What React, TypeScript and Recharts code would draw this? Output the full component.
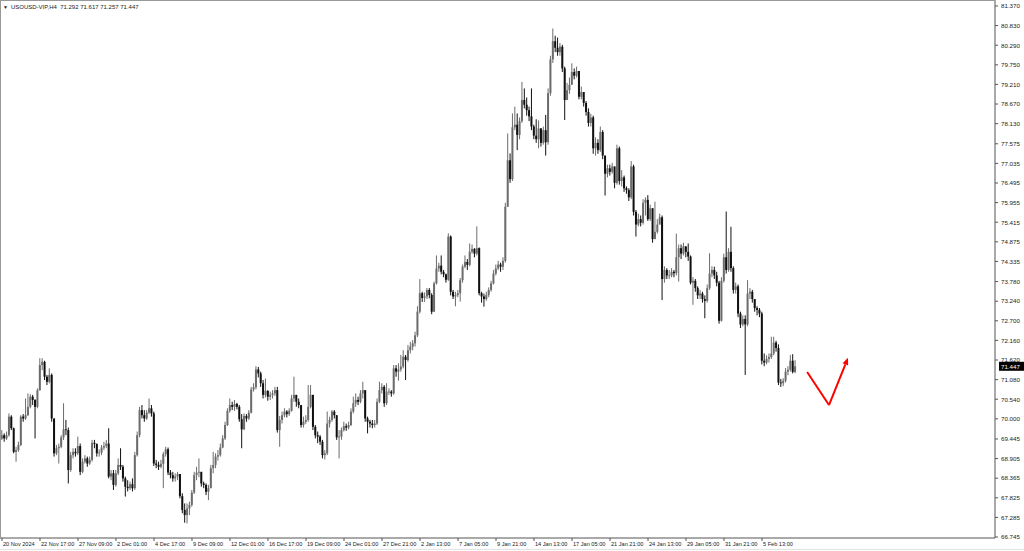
import { ComposedChart, Bar, XAxis, YAxis, ReferenceLine } from 'recharts'

const FONT = '"Liberation Sans", Arial, sans-serif'

// each bar is [high, low, close]; a bar opens at the previous close
const firstOpen = 69.45

const novBars = [
  [69.69, 69.42, 69.55], [69.60, 69.37, 69.46], [69.65, 69.42, 69.55], [70.15, 69.51, 70.06], [70.10, 69.69, 69.74],
  [69.76, 69.05, 69.09], [69.23, 68.82, 69.14], [69.37, 69.09, 69.28], [70.10, 69.25, 70.06], [70.13, 69.92, 70.01],
  [70.56, 69.97, 70.10], [70.70, 70.08, 70.33], [70.68, 70.29, 70.61], [70.66, 70.38, 70.52], [70.54, 69.46, 70.33],
  [70.84, 70.29, 70.79], [71.67, 70.77, 71.48], [71.67, 71.34, 71.57], [71.60, 71.07, 71.16], [71.21, 70.93, 71.02],
  [71.39, 70.98, 71.21], [71.25, 69.92, 70.01], [70.01, 68.96, 69.05], [69.28, 69.00, 69.19], [69.32, 68.77, 69.23],
  [69.55, 69.19, 69.49], [70.43, 69.42, 69.71], [69.97, 69.55, 69.69], [69.76, 68.22, 68.59], [69.09, 68.54, 69.00],
  [69.19, 68.91, 69.09], [69.19, 68.96, 69.05], [69.51, 69.00, 69.25], [69.32, 68.45, 68.54], [68.91, 68.50, 68.82],
  [69.00, 68.77, 68.91], [68.96, 68.68, 68.77], [68.96, 68.73, 68.87], [69.42, 68.82, 69.34], [69.42, 69.19, 69.31],
  [69.32, 68.96, 69.05], [69.16, 68.96, 69.07], [69.28, 69.00, 69.21], [69.37, 69.14, 69.25], [69.42, 69.19, 69.32],
  [69.74, 68.36, 68.41], [68.59, 68.31, 68.50], [68.59, 68.04, 68.18],
]

const decBars = [
  [68.59, 68.13, 68.50], [68.91, 68.45, 68.73], [69.19, 68.59, 68.68], [68.73, 68.27, 68.36], [68.41, 67.86, 68.13],
  [68.31, 68.00, 68.09], [68.27, 68.04, 68.20], [68.36, 68.00, 68.09], [69.09, 68.04, 69.00], [69.65, 68.96, 69.55],
  [70.33, 69.49, 70.24], [70.38, 70.01, 70.10], [70.24, 69.92, 70.01], [70.24, 69.97, 70.17], [70.56, 70.13, 70.29],
  [70.38, 70.06, 70.15], [70.20, 68.70, 68.77], [68.87, 68.64, 68.73], [68.82, 68.59, 68.68], [68.87, 68.64, 68.76],
  [69.09, 68.09, 69.03], [69.23, 68.96, 69.16], [69.21, 68.45, 68.52], [68.59, 68.36, 68.45], [68.54, 68.27, 68.36],
  [68.50, 68.27, 68.41], [68.54, 68.31, 68.48], [68.45, 67.81, 67.87], [67.95, 67.40, 67.49], [67.67, 67.14, 67.35],
  [67.67, 67.12, 67.53], [67.72, 67.35, 67.63], [68.04, 67.58, 67.97], [68.54, 67.93, 68.45], [68.68, 68.31, 68.52],
  [68.91, 68.39, 68.54], [68.50, 68.13, 68.22], [68.27, 68.09, 68.18], [68.22, 67.90, 67.99], [68.18, 67.76, 68.09],
  [68.73, 68.09, 68.64], [69.09, 68.50, 68.73], [69.05, 68.64, 68.96], [69.14, 68.85, 69.00], [69.32, 68.96, 69.21],
  [69.55, 69.19, 69.46], [69.92, 69.42, 69.83], [70.29, 69.80, 70.22], [70.56, 70.17, 70.38], [70.47, 70.24, 70.33],
  [70.52, 70.22, 70.41], [70.44, 70.26, 70.33], [70.38, 69.92, 69.99], [70.13, 69.19, 69.71], [70.15, 69.69, 70.08],
  [70.13, 69.92, 70.01], [70.24, 69.97, 70.17], [70.88, 70.15, 70.81], [70.98, 70.75, 70.87], [71.45, 70.81, 71.36],
  [71.43, 71.14, 71.25], [71.30, 70.88, 70.98], [71.07, 70.56, 70.66], [71.11, 70.59, 70.77], [70.79, 70.50, 70.61],
  [70.75, 70.52, 70.66], [70.79, 70.56, 70.70], [70.88, 70.63, 70.79], [70.88, 69.62, 69.69], [70.08, 69.23, 69.97],
  [70.20, 69.87, 70.10], [70.29, 70.04, 70.20], [70.24, 70.04, 70.13], [70.29, 70.08, 70.22], [70.66, 70.20, 70.56],
  [71.16, 70.47, 70.66], [70.66, 70.33, 70.47], [70.56, 70.29, 70.38], [70.38, 69.76, 69.83], [70.06, 69.76, 69.92],
  [70.10, 69.86, 69.97], [70.93, 69.92, 70.33], [70.93, 70.29, 70.66], [70.66, 69.69, 69.78], [69.83, 69.46, 69.55],
  [69.65, 69.33, 69.51], [69.55, 69.28, 69.37], [69.42, 68.91, 69.00], [69.14, 68.88, 69.05], [70.20, 69.00, 69.87],
  [70.06, 69.76, 69.97], [70.24, 69.92, 70.20], [70.24, 70.01, 70.10], [70.10, 69.42, 69.49], [69.69, 68.91, 69.51],
  [69.76, 69.42, 69.69], [69.92, 69.65, 69.80], [69.87, 69.67, 69.76], [69.92, 69.71, 69.83], [70.29, 69.80, 70.20],
  [70.61, 70.15, 70.43], [70.70, 70.33, 70.52], [70.61, 70.38, 70.47], [70.79, 70.43, 70.70], [71.02, 70.56, 70.79],
  [70.75, 69.92, 70.01], [70.06, 69.60, 69.92], [69.97, 69.76, 69.87], [69.97, 69.74, 69.83], [69.97, 69.76, 69.87],
  [70.56, 69.83, 70.47], [71.02, 70.43, 70.79], [70.98, 70.70, 70.88], [70.93, 70.33, 70.43], [70.98, 70.38, 70.75],
  [70.84, 70.66, 70.75], [70.79, 70.61, 70.70], [71.48, 70.66, 71.39], [71.48, 71.16, 71.30], [71.53, 71.05, 71.36],
  [71.76, 71.30, 71.44], [71.89, 71.39, 71.71],
]

const janBars = [
  [71.76, 71.07, 71.62], [72.03, 71.57, 71.89], [72.12, 71.80, 71.99], [72.17, 71.89, 72.08], [72.40, 71.99, 72.30],
  [73.10, 72.25, 72.95], [73.85, 72.90, 73.46], [73.50, 73.22, 73.33], [73.48, 73.22, 73.37], [73.60, 73.30, 73.55],
  [73.60, 73.32, 73.41], [73.46, 72.88, 72.95], [73.78, 72.95, 73.73], [74.50, 73.70, 74.14], [74.30, 74.05, 74.22],
  [74.50, 73.98, 74.05], [74.10, 73.90, 73.98], [74.00, 73.75, 73.83], [75.11, 73.80, 75.02], [75.05, 73.40, 73.50],
  [73.55, 73.30, 73.37], [73.50, 73.10, 73.41], [73.55, 73.35, 73.46], [73.88, 73.23, 73.82], [74.25, 73.75, 74.19],
  [74.50, 74.15, 74.32], [74.40, 74.10, 74.24], [74.83, 74.20, 74.60], [74.80, 74.55, 74.68], [74.70, 74.45, 74.55],
  [75.30, 74.50, 74.70], [74.72, 73.40, 73.46], [73.50, 73.20, 73.37], [73.45, 73.09, 73.30], [73.50, 73.25, 73.41],
  [73.62, 73.35, 73.55], [73.80, 73.50, 73.73], [74.10, 73.70, 74.00], [74.25, 73.95, 74.14], [74.35, 74.10, 74.25],
  [74.30, 74.05, 74.19], [74.45, 74.10, 74.35], [75.95, 74.30, 75.84], [77.86, 75.85, 77.12], [77.31, 76.50, 76.60],
  [78.41, 76.55, 78.03], [78.60, 77.95, 78.10], [78.41, 77.40, 77.82], [78.30, 77.70, 78.20], [79.28, 78.15, 78.78],
  [79.10, 78.55, 78.65], [78.85, 78.35, 78.50], [78.60, 78.20, 78.33], [79.10, 77.95, 78.05], [78.10, 77.70, 77.80],
  [78.25, 77.60, 77.70], [78.22, 77.45, 78.00], [78.00, 77.50, 77.60], [78.05, 77.55, 77.95], [78.37, 77.25, 77.62],
  [79.10, 77.55, 78.97], [80.00, 78.90, 79.90], [80.75, 79.80, 80.40], [80.55, 80.10, 80.22], [80.50, 80.00, 80.10],
  [80.35, 80.00, 80.25], [80.30, 79.55, 79.65], [79.70, 78.23, 78.78], [79.25, 78.80, 79.05], [79.40, 78.95, 79.20],
  [79.79, 79.20, 79.55], [79.65, 79.35, 79.45], [79.70, 79.40, 79.58], [79.55, 78.80, 78.87], [79.15, 78.80, 79.00],
  [79.00, 78.60, 78.70], [78.75, 78.35, 78.45], [78.55, 78.05, 78.15], [78.40, 78.05, 78.30], [78.35, 77.30, 77.45],
  [77.75, 77.25, 77.60], [77.70, 77.30, 77.40], [78.05, 77.35, 77.90], [77.95, 77.15, 77.25], [77.10, 76.15, 76.75],
  [77.00, 76.65, 76.90], [77.00, 76.70, 76.80], [77.05, 76.75, 76.95], [76.95, 76.35, 76.50], [77.55, 76.45, 77.45],
  [77.50, 76.45, 76.55], [76.85, 76.40, 76.65], [76.70, 76.25, 76.35], [76.40, 76.20, 76.30], [76.35, 76.00, 76.10],
  [77.10, 76.05, 76.95], [77.00, 75.60, 75.70], [75.75, 75.02, 75.35], [75.65, 75.30, 75.50], [75.60, 75.30, 75.40],
  [76.05, 75.35, 75.95], [76.10, 75.60, 76.03], [76.16, 75.45, 75.50], [75.90, 75.45, 75.80], [75.75, 74.85, 74.95],
  [75.98, 74.95, 75.15], [75.50, 75.10, 75.35], [75.65, 75.35, 75.55], [75.60, 73.27, 73.85], [74.20, 73.75, 74.10],
  [74.15, 73.85, 73.95], [74.10, 73.85, 73.95], [74.15, 73.90, 74.05], [74.10, 73.90, 74.01], [75.10, 73.95, 74.45],
  [74.80, 73.78, 74.70], [74.80, 74.40, 74.55], [74.85, 74.50, 74.75], [74.70, 74.45, 74.60], [74.83, 74.35, 74.47],
  [74.50, 73.70, 73.75], [73.90, 73.14, 73.80], [73.85, 73.50, 73.60], [73.65, 73.30, 73.40], [73.55, 73.30, 73.45],
  [73.50, 73.20, 73.30], [73.40, 72.77, 73.25], [73.70, 73.20, 73.60], [74.56, 73.55, 74.00], [74.20, 73.90, 74.10],
  [74.19, 73.85, 73.95], [74.05, 73.65, 73.75], [73.80, 72.62, 72.70], [73.90, 72.68, 73.80], [74.55, 73.75, 74.45],
  [75.71, 74.00, 74.10], [74.70, 74.05, 74.60],
]

const febBars = [
  [75.29, 74.05, 74.15], [74.20, 73.45, 73.55], [73.75, 73.45, 73.65], [73.70, 72.80, 72.90], [72.95, 72.50, 72.60],
  [72.85, 72.55, 72.75], [72.85, 71.21, 72.60], [73.82, 72.55, 73.45], [73.60, 73.30, 73.50], [73.55, 73.20, 73.30],
  [73.30, 72.95, 73.05], [73.10, 72.85, 73.00], [73.05, 72.80, 72.90], [72.95, 71.50, 71.60], [71.80, 71.45, 71.55],
  [71.75, 71.50, 71.65], [71.80, 71.55, 71.70], [72.26, 71.65, 71.80], [72.26, 71.75, 72.10], [72.15, 71.85, 71.95],
  [72.05, 70.93, 71.00], [71.10, 70.88, 70.98], [71.12, 70.90, 71.05], [71.40, 71.00, 71.30], [71.45, 71.20, 71.35],
  [71.76, 71.30, 71.60], [71.78, 71.25, 71.292], [71.617, 71.257, 71.447],
]

const tickLabels = [
  '20 Nov 2024', '22 Nov 17:00', '27 Nov 09:00', '2 Dec 01:00', '4 Dec 17:00', '9 Dec 09:00', '12 Dec 01:00',
  '16 Dec 17:00', '19 Dec 09:00', '24 Dec 01:00', '27 Dec 21:00', '2 Jan 13:00', '7 Jan 05:00', '9 Jan 21:00',
  '14 Jan 13:00', '17 Jan 05:00', '21 Jan 21:00', '24 Jan 13:00', '29 Jan 05:00', '31 Jan 21:00', '5 Feb 13:00',
]
const barsPerLabel = 16

const priceTicks = [
  81.37, 80.83, 80.29, 79.75, 79.21, 78.67, 78.13, 77.575, 77.035, 76.495, 75.955, 75.415, 74.875, 74.335,
  73.78, 73.24, 72.7, 72.16, 71.62, 71.08, 70.54, 70.0, 69.445, 68.905, 68.365, 67.825, 67.285, 66.745,
]
const lastPrice = 71.447
const title = 'USOUSD-VIP,H4  71.292 71.617 71.257 71.447'

// red projection arrow, in bar index / price
const arrowX = [339, 348.2, 356.2]
const arrowY = [71.29, 70.38, 71.68]

const allBars = [...novBars, ...decBars, ...janBars, ...febBars]
const candles = allBars.map(([high, low, close], i) => {
  const open = i === 0 ? firstOpen : allBars[i - 1][2]
  return { i, open, high, low, close, range: [Math.min(low, open, close), Math.max(high, open, close)] }
})
const tickIndex = tickLabels.map((_, k) => k * barsPerLabel)

function Candle(props: any) {
  const { x, y, width, height, payload } = props
  if (x == null || y == null) return null
  const top = Math.min(y, y + height)
  const h = Math.abs(height)
  const [lo, hi] = payload.range
  const span = hi - lo || 1
  const yOf = (v: number) => top + ((hi - v) / span) * h
  const up = payload.close >= payload.open
  const color = up ? '#6c6c6c' : '#101010'
  const cx = x + width / 2
  const b1 = yOf(Math.max(payload.open, payload.close))
  const b2 = yOf(Math.min(payload.open, payload.close))
  return (
    <g>
      <line x1={cx} x2={cx} y1={top} y2={top + h} stroke={color} strokeWidth={1} />
      <rect x={cx - 1} y={b1} width={2} height={Math.max(b2 - b1, 0.8)} fill={color} />
    </g>
  )
}

function DateTick(props: any) {
  const { x, y, payload } = props
  const label = tickLabels[Math.round(payload.value / barsPerLabel)]
  return (
    <g>
      <line x1={x} x2={x} y1={y} y2={y + 3} stroke="#555" />
      <text x={x + 1} y={y + 7.6} fontSize={5.6} fill="#222" fontFamily={FONT} textAnchor="start">{label}</text>
    </g>
  )
}

function PriceTick(props: any) {
  const { x, y, payload } = props
  const v = payload.value
  if (v === lastPrice) {
    return (
      <g>
        <rect x={x + 4} y={y - 4.5} width={25} height={9} fill="#000" />
        <text x={x + 6} y={y + 2.3} fontSize={6.2} fill="#fff" fontFamily={FONT}>{v.toFixed(3)}</text>
      </g>
    )
  }
  return (
    <g>
      <line x1={x} x2={x + 3} y1={y} y2={y} stroke="#555" />
      <text x={x + 6} y={y + 2.3} fontSize={6.2} fill="#222" fontFamily={FONT}>{v.toFixed(3)}</text>
    </g>
  )
}

function ArrowLine(props: any) {
  const { x1, y1, x2, y2 } = props
  const a = Math.atan2(y2 - y1, x2 - x1)
  const len = 7, half = 3
  const bx = x2 - len * Math.cos(a), by = y2 - len * Math.sin(a)
  const px = -Math.sin(a) * half, py = Math.cos(a) * half
  return (
    <g>
      <line x1={x1} y1={y1} x2={bx} y2={by} stroke="#f00" strokeWidth={2} />
      <polygon points={`${x2},${y2} ${bx + px},${by + py} ${bx - px},${by - py}`} fill="#f00" />
    </g>
  )
}

export default function App() {
  return (
    <div style={{ position: 'fixed', left: 0, top: 0, width: 1024, height: 551, background: '#fff', fontFamily: FONT }}>
      <ComposedChart width={1024} height={551} data={candles} margin={{ top: 0, right: 0, bottom: 0, left: 0 }}>
        <XAxis type="number" dataKey="i" domain={[-0.84, 418.1]} ticks={tickIndex} interval={0}
          tick={(p: any) => <DateTick {...p} />} tickLine={false} tickSize={0} tickMargin={0}
          height={13} stroke="#555" allowDataOverflow />
        <YAxis orientation="right" type="number" domain={[66.718, 81.535]} ticks={[...priceTicks, lastPrice]} interval={0}
          tick={(p: any) => <PriceTick {...p} />} tickLine={false} tickSize={0} tickMargin={0}
          width={29} stroke="#555" allowDataOverflow />
        <Bar dataKey="range" barSize={2} shape={(p: any) => <Candle {...p} />} isAnimationActive={false} />
        <ReferenceLine segment={[{ x: arrowX[0], y: arrowY[0] }, { x: arrowX[1], y: arrowY[1] }]} stroke="#f00" strokeWidth={2} />
        <ReferenceLine segment={[{ x: arrowX[1], y: arrowY[1] }, { x: arrowX[2], y: arrowY[2] }]} stroke="#f00" strokeWidth={2}
          shape={(p: any) => <ArrowLine {...p} />} />
      </ComposedChart>
      <div style={{ position: 'absolute', left: 0, top: 0, width: 995, height: 538, borderTop: '1px solid #999', borderLeft: '1px solid #999', boxSizing: 'border-box', pointerEvents: 'none' }} />
      <div style={{ position: 'absolute', left: 0, top: 549, width: 1024, height: 1, background: '#e4e4e4' }} />
      <div style={{ position: 'absolute', left: 3, top: 3, fontSize: 6, color: '#222', whiteSpace: 'pre', lineHeight: '8px' }}>
        <span style={{ fontSize: 5, marginRight: 3 }}>▼</span>{title}
      </div>
    </div>
  )
}
